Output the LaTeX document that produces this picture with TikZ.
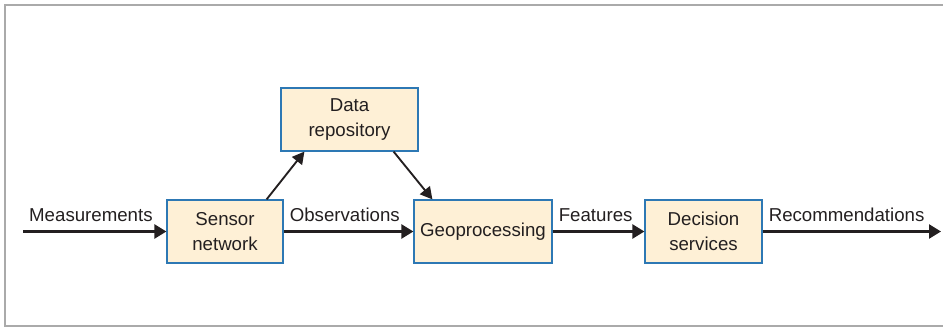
\documentclass[tikz,border=0pt]{standalone}
\usepackage{fontspec}
\setmainfont{Liberation Sans}
\usepackage{xcolor}
\definecolor{boxfill}{RGB}{254,240,214}
\definecolor{boxline}{RGB}{45,120,180}
\definecolor{framegray}{RGB}{170,170,170}
\definecolor{inkdark}{RGB}{35,31,32}
\usepackage{tikz}
\usetikzlibrary{
  arrows.meta,
  positioning
}

\begin{document}
\begin{tikzpicture}[
  x=0.75pt, y=-0.75pt,
  block/.style={rectangle, draw=boxline, fill=boxfill, line width=0.9pt, minimum height=47.25pt, inner sep=2pt, align=center, font=\fontsize{14}{18.5}\selectfont, text=inkdark},
  flow/.style={-{Triangle[length=9pt, width=10.5pt]}, line width=1.8pt, draw=inkdark},
  side/.style={-{Triangle[length=9pt, width=9.5pt]}, line width=1.4pt, draw=inkdark},
  lbl/.style={pos=0, anchor=base west, xshift=3.75pt, yshift=7.5pt, inner sep=0pt, font=\fontsize{14}{17}\selectfont, text=inkdark}
]
  \useasboundingbox (0,0) rectangle (943,328);
  \draw[framegray, line width=1.5pt] (945,5) -- (5,5) -- (5,326) -- (945,326);

  \node[block, minimum width=87pt] (sensor) at (225,231.5) {Sensor\\network};
  \node[block, minimum width=102.75pt] (repo) at (349.5,119.5) {Data\\repository};
  \node[block, minimum width=103.5pt] (geo) at (483,231.5) {Geoprocessing};
  \node[block, minimum width=87.75pt] (decision) at (703.5,231.5) {Decision\\services};

  \coordinate (in) at (23,231.5);
  \coordinate (out) at (941,231.5);

  \draw[flow] (in) -- node[lbl] {Measurements} (sensor);
  \draw[flow] (sensor) -- node[lbl] {Observations} (geo);
  \draw[flow] (geo) -- node[lbl] {Features} (decision);
  \draw[flow] (decision) -- node[lbl] {Recommendations} (out);

  \draw[side] ([xshift=-12.75pt]sensor.north east) -- ([xshift=18pt]repo.south west);
  \draw[side] ([xshift=-18.75pt]repo.south east) -- ([xshift=14.25pt]geo.north west);
\end{tikzpicture}
\end{document}
